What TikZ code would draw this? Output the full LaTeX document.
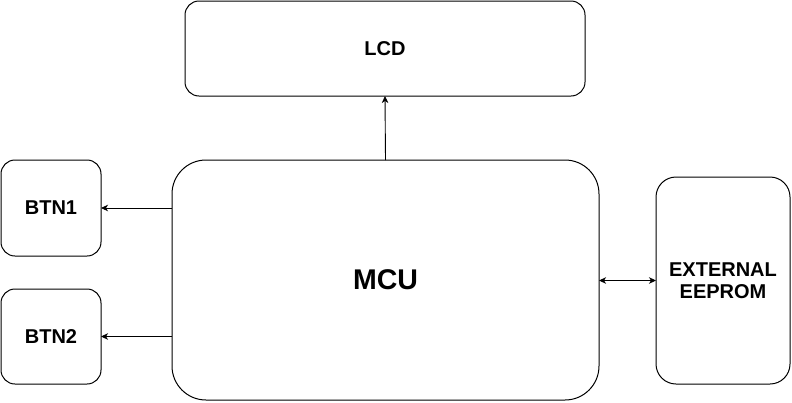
\documentclass[tikz,border=0pt]{standalone}
\usepackage{fontspec}
\setmainfont{Liberation Sans}
\usetikzlibrary{arrows.meta}
\begin{document}
\begin{tikzpicture}[x=1pt,y=-1pt,
  blk/.style={draw=black,line width=1pt,inner sep=0pt,outer sep=0pt,align=center,font=\bfseries\fontsize{20}{22.5}\selectfont},
  conn/.style={line width=0.9pt,-{Stealth[length=7pt,width=6.5pt,inset=2pt]}},
  bconn/.style={line width=0.9pt,{Stealth[length=7pt,width=6.5pt,inset=2pt]}-{Stealth[length=7pt,width=6.5pt,inset=2pt]}}]
\useasboundingbox (0,0) rectangle (792,402);
\node[blk,minimum width=400pt,minimum height=95pt,rounded corners=14pt] (lcd) at (385,48.5) {LCD};
\node[blk,minimum width=427pt,minimum height=240pt,rounded corners=34pt,font=\bfseries\fontsize{28.5}{32}\selectfont] (mcu) at (385.5,280) {MCU};
\node[blk,minimum width=100pt,minimum height=96pt,rounded corners=14pt] (btn1) at (51,208) {BTN1};
\node[blk,minimum width=100pt,minimum height=95pt,rounded corners=14pt] (btn2) at (51,336.5) {BTN2};
\node[blk,minimum width=134pt,minimum height=207pt,rounded corners=20pt] (eep) at (723,280.5) {EXTERNAL\\EEPROM};
\draw[conn] (mcu.north) -- (lcd.south);
\draw[conn] (mcu.west |- btn1.east) -- (btn1.east);
\draw[conn] (mcu.west |- btn2.east) -- (btn2.east);
\draw[bconn] (mcu.east |- eep.west) -- (eep.west);
\end{tikzpicture}
\end{document}
